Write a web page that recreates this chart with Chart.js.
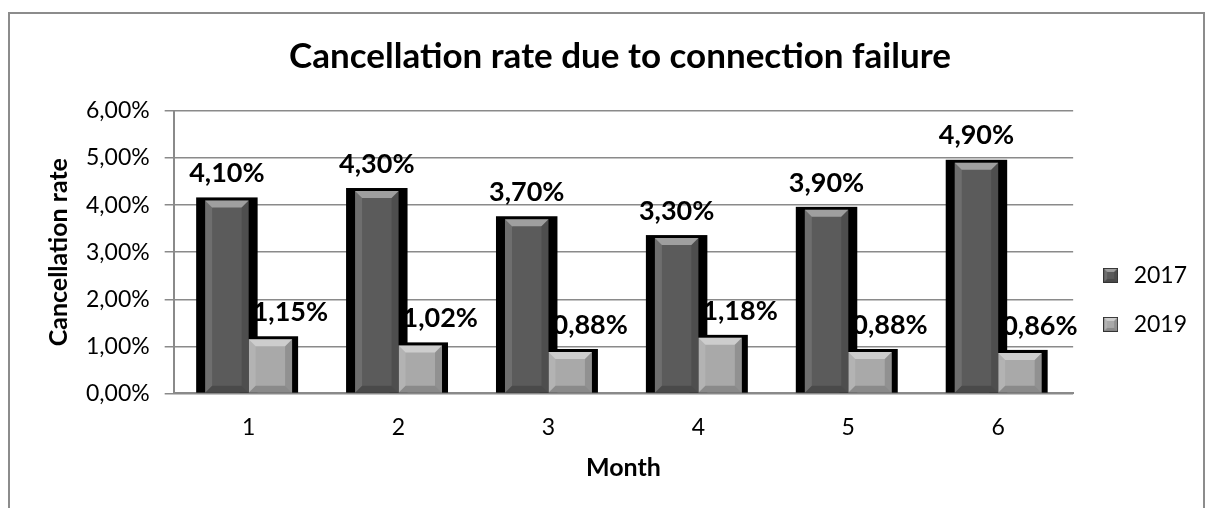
<!DOCTYPE html>
<html>
<head>
<meta charset="utf-8">
<script src="https://cdn.jsdelivr.net/npm/chart.js@4.4.1/dist/chart.umd.min.js"></script>
<style>
  html, body { margin: 0; padding: 0; background: #fff; overflow: hidden; }
  #frame { position: absolute; left: 8px; top: 12px; width: 1197px; height: 540px; border: 2px solid #8c8c8c; box-sizing: border-box; }
  #wrap { position: absolute; left: 0; top: 0; width: 1214px; height: 508px; }
</style>
</head>
<body>
<div id="frame"></div>
<div id="wrap"><canvas id="chart" width="1214" height="508"></canvas></div>
<script>
// ========== DATA ========== //
const months = ["1", "2", "3", "4", "5", "6"];
const rate2017 = [4.10, 4.30, 3.70, 3.30, 3.90, 4.90];
const rate2019 = [1.15, 1.02, 0.88, 1.18, 0.88, 0.86];
const seriesNames = ["2017", "2019"];
const yTicks = [0, 1, 2, 3, 4, 5, 6];

const FONT = "Lato, 'Open Sans', sans-serif";
const faceColors = ["#5b5b5b", "#a9a9a9"];

const pct = v => v.toFixed(2).replace(".", ",") + "%";

// ========== HELPERS ========== //
function bevel(ctx, l, t, r, b, s) {
  const side = (pts, fill) => {
    ctx.beginPath();
    ctx.moveTo(pts[0][0], pts[0][1]);
    pts.slice(1).forEach(p => ctx.lineTo(p[0], p[1]));
    ctx.closePath();
    ctx.fillStyle = fill;
    ctx.fill();
  };
  const st = Math.min(s, (b - t) / 2);
  side([[l, t], [r, t], [r - s, t + st], [l + s, t + st]], "rgba(255,255,255,0.42)");
  side([[l, t], [l + s, t + st], [l + s, b - st], [l, b]], "rgba(255,255,255,0.12)");
  side([[r, t], [r - s, t + st], [r - s, b - st], [r, b]], "rgba(0,0,0,0.14)");
  side([[l, b], [l + s, b - st], [r - s, b - st], [r, b]], "rgba(0,0,0,0.18)");
}

function legendSwatch(color) {
  const c = document.createElement("canvas");
  c.width = 15; c.height = 15;
  const g = c.getContext("2d");
  g.fillStyle = color;
  g.fillRect(0, 0, 15, 15);
  bevel(g, 0, 0, 15, 15, 4);
  g.strokeStyle = "#333";
  g.lineWidth = 1;
  g.strokeRect(0.5, 0.5, 14, 14);
  return c;
}

// black frame behind every bar, bevel + value labels on top
const barDecor = {
  id: "barDecor",
  beforeDatasetsDraw(chart) {
    const ctx = chart.ctx;
    ctx.save();
    ctx.fillStyle = "#000";
    chart.data.datasets.forEach((ds, i) => {
      chart.getDatasetMeta(i).data.forEach(bar => {
        const l = bar.x - bar.width / 2 - 9;
        const r = bar.x + bar.width / 2 + (i === 0 ? 9 : 6);
        ctx.fillRect(l, bar.y - 3, r - l, bar.base - bar.y + 3);
      });
    });
    ctx.restore();
  },
  afterDatasetsDraw(chart) {
    const ctx = chart.ctx;
    ctx.save();
    chart.data.datasets.forEach((ds, i) => {
      chart.getDatasetMeta(i).data.forEach((bar, j) => {
        const l = bar.x - bar.width / 2;
        const r = bar.x + bar.width / 2;
        bevel(ctx, l, bar.y, r, bar.base, 7);
        ctx.font = "bold 27px " + FONT;
        ctx.fillStyle = "#000";
        ctx.textAlign = "center";
        ctx.textBaseline = "middle";
        const dx = i === 0 ? 0 : 20;
        ctx.fillText(pct(ds.data[j]), bar.x + dx, bar.y - 27);
      });
    });
    ctx.restore();
  }
};

// ========== CHART ========== //
new Chart(document.getElementById("chart"), {
  type: "bar",
  data: {
    labels: months,
    datasets: [
      { label: seriesNames[0], data: rate2017, backgroundColor: faceColors[0], pointStyle: legendSwatch(faceColors[0]) },
      { label: seriesNames[1], data: rate2019, backgroundColor: faceColors[1], pointStyle: legendSwatch(faceColors[1]) }
    ]
  },
  options: {
    responsive: false,
    animation: false,
    categoryPercentage: 0.58,
    barPercentage: 1,
    layout: { padding: { left: 43, right: 17, top: 0, bottom: 25 } },
    plugins: {
      title: {
        display: true,
        text: "Cancellation rate due to connection failure",
        color: "#000",
        font: { family: FONT, size: 35, weight: "bold" },
        padding: { top: 36, bottom: 33 }
      },
      legend: {
        position: "right",
        title: { display: true, text: " ", font: { family: FONT, size: 19 }, padding: { top: 94, bottom: 0 } },
        labels: {
          usePointStyle: true,
          color: "#000",
          font: { family: FONT, size: 23 },
          padding: 26
        }
      },
      tooltip: { enabled: false }
    },
    scales: {
      x: {
        grid: { display: false, drawTicks: true, tickLength: 20 },
        border: { color: "#8a8a8a", width: 2 },
        ticks: { color: "#000", font: { family: FONT, size: 23 }, padding: 0 },
        title: { display: true, text: "Month", color: "#000", font: { family: FONT, size: 25, weight: "bold" }, padding: { top: 12, bottom: 0 } }
      },
      y: {
        min: 0,
        max: 6,
        afterBuildTicks: axis => { axis.ticks = yTicks.map(v => ({ value: v })); },
        grid: { color: "#8a8a8a", lineWidth: 1.5, tickLength: 9 },
        border: { color: "#8a8a8a", width: 2 },
        ticks: { color: "#000", font: { family: FONT, size: 23 }, padding: 15, callback: v => pct(v) },
        title: { display: true, text: "Cancellation rate", color: "#000", font: { family: FONT, size: 25, weight: "bold", lineHeight: 1 }, padding: { top: 3, bottom: 0 } }
      }
    }
  },
  plugins: [barDecor]
});
</script>
</body>
</html>
